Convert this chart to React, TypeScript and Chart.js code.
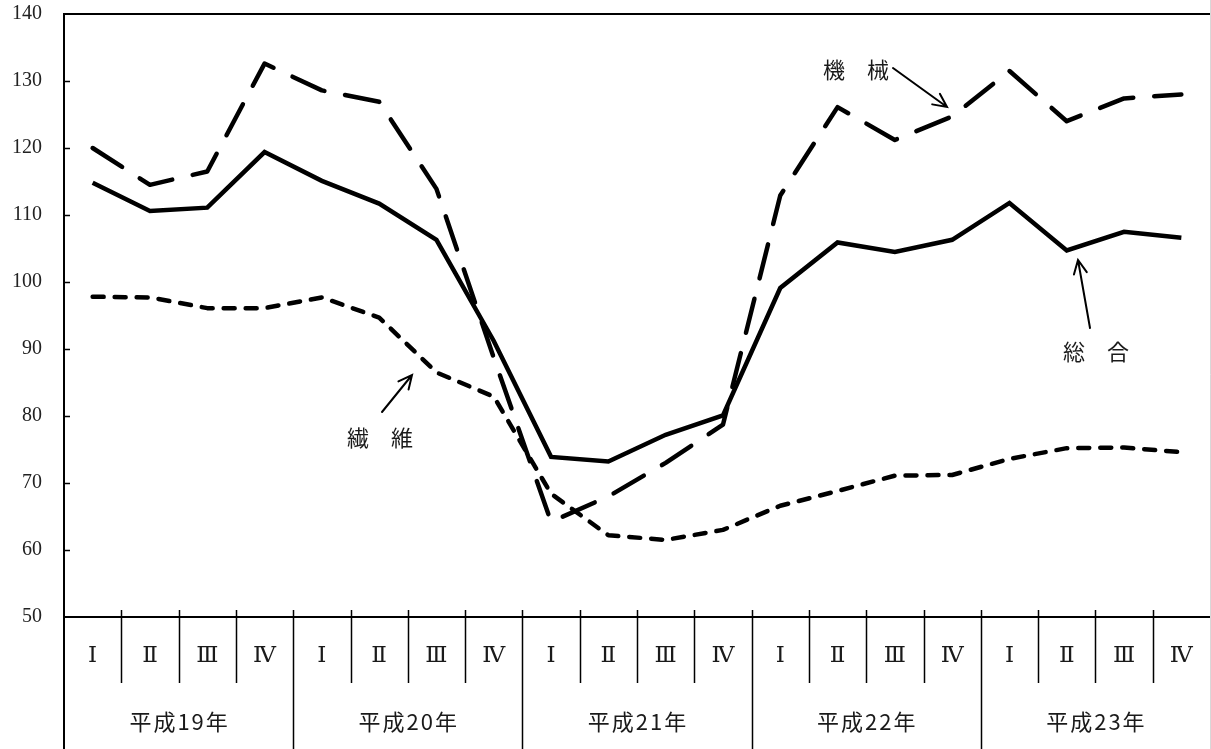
import React, { useEffect, useRef } from "react";
import { Chart, registerables } from "chart.js";

Chart.register(...registerables);

const quarterNames = ["Ⅰ", "Ⅱ", "Ⅲ", "Ⅳ"];
const years = ["平成19年", "平成20年", "平成21年", "平成22年", "平成23年"];
const quarterLabels = years.flatMap(() => quarterNames);

const sogo = [114.8, 110.6, 111.1, 119.4, 115.1, 111.7, 106.3, 91.2, 73.9, 73.2, 77.2, 80.1, 99.1, 105.9, 104.5, 106.3, 111.8, 104.7, 107.5, 106.6];
const kikai = [120.0, 114.5, 116.5, 132.6, 128.6, 126.9, 113.9, 88.7, 64.2, 68.0, 73.0, 78.7, 112.9, 126.1, 121.2, 124.7, 131.5, 124.0, 127.4, 128.0];
const seni = [97.8, 97.7, 96.1, 96.1, 97.7, 94.7, 86.5, 82.9, 68.4, 62.2, 61.5, 63.0, 66.6, 68.8, 71.1, 71.2, 73.6, 75.2, 75.3, 74.6];

const yMin = 50;
const yMax = 140;
const yStep = 10;

const annotations = [
  { text: "機　械", tx: 856, ty: 70, from: [893, 68], to: [947, 107] },
  { text: "総　合", tx: 1096, ty: 352, from: [1090, 328], to: [1078, 260] },
  { text: "繊　維", tx: 380, ty: 438, from: [382, 412], to: [412, 375] },
];

const decorPlugin = {
  id: "decor",
  afterDraw(chart: any) {
    const ctx = chart.ctx as CanvasRenderingContext2D;
    const { left, right, top, bottom } = chart.chartArea;
    const xs = chart.scales.x;
    const ys = chart.scales.y;
    const H = chart.height;
    ctx.save();
    ctx.strokeStyle = "#000";
    ctx.lineCap = "butt";
    // frame lines
    ctx.lineWidth = 2;
    ctx.beginPath();
    ctx.moveTo(left, top);
    ctx.lineTo(right, top);
    ctx.moveTo(left, bottom);
    ctx.lineTo(right, bottom);
    ctx.moveTo(left, top - 1);
    ctx.lineTo(left, H);
    ctx.stroke();
    // inward y ticks
    ctx.lineWidth = 1.5;
    ctx.beginPath();
    for (let v = yMin + yStep; v < yMax; v += yStep) {
      const y = Math.round(ys.getPixelForValue(v)) + 0.5;
      ctx.moveTo(left, y);
      ctx.lineTo(left + 6, y);
    }
    ctx.stroke();
    // separators
    const n = quarterLabels.length;
    ctx.lineWidth = 1.5;
    ctx.beginPath();
    for (let i = 1; i < n; i++) {
      const x = Math.round((xs.getPixelForValue(i - 1) + xs.getPixelForValue(i)) / 2) + 0.5;
      ctx.moveTo(x, bottom - 7);
      ctx.lineTo(x, i % 4 === 0 ? H : bottom + 66);
    }
    ctx.stroke();
    // quarter labels
    ctx.fillStyle = "#1a1a1a";
    ctx.textAlign = "center";
    ctx.textBaseline = "middle";
    ctx.font = '23px "DejaVu Serif", "Liberation Serif", serif';
    for (let i = 0; i < n; i++) {
      ctx.fillText(quarterLabels[i], xs.getPixelForValue(i), bottom + 39);
    }
    // year labels
    ctx.font = '22px "Noto Sans CJK JP", sans-serif';
    (ctx as any).letterSpacing = "2px";
    years.forEach((yl, k) => {
      const x = (xs.getPixelForValue(k * 4) + xs.getPixelForValue(k * 4 + 3)) / 2;
      ctx.fillText(yl, x + 1, bottom + 105);
    });
    (ctx as any).letterSpacing = "0px";
    // annotations
    ctx.font = '22px "Noto Sans CJK JP", sans-serif';
    ctx.lineWidth = 2;
    ctx.lineCap = "round";
    annotations.forEach((a) => {
      ctx.fillText(a.text, a.tx, a.ty);
      const [x1, y1] = a.from;
      const [x2, y2] = a.to;
      ctx.beginPath();
      ctx.moveTo(x1, y1);
      ctx.lineTo(x2, y2);
      const ang = Math.atan2(y2 - y1, x2 - x1);
      const hl = 15;
      const spread = 0.45;
      ctx.moveTo(x2 - hl * Math.cos(ang - spread), y2 - hl * Math.sin(ang - spread));
      ctx.lineTo(x2, y2);
      ctx.lineTo(x2 - hl * Math.cos(ang + spread), y2 - hl * Math.sin(ang + spread));
      ctx.stroke();
    });
    // right light border
    ctx.strokeStyle = "#d8d8d8";
    ctx.lineWidth = 1;
    ctx.beginPath();
    ctx.moveTo(chart.width - 0.5, 0);
    ctx.lineTo(chart.width - 0.5, H);
    ctx.stroke();
    ctx.restore();
  },
};

export default function App() {
  const ref = useRef<HTMLCanvasElement | null>(null);
  useEffect(() => {
    document.body.style.margin = "0";
    const canvas = ref.current;
    if (!canvas) return;
    const chart = new Chart(canvas, {
      type: "line",
      data: {
        labels: quarterLabels,
        datasets: [
          {
            label: "総合",
            data: sogo,
            borderColor: "#000",
            borderWidth: 4.5,
            pointRadius: 0,
            tension: 0,
            borderJoinStyle: "miter",
          },
          {
            label: "機械",
            data: kikai,
            borderColor: "#000",
            borderWidth: 4.5,
            pointRadius: 0,
            tension: 0,
            borderDash: [35, 21],
            borderCapStyle: "round",
            borderJoinStyle: "round",
          },
          {
            label: "繊維",
            data: seni,
            borderColor: "#000",
            borderWidth: 4.5,
            pointRadius: 0,
            tension: 0,
            borderDash: [11, 11],
            borderCapStyle: "round",
            borderJoinStyle: "round",
          },
        ],
      },
      options: {
        responsive: false,
        animation: false,
        layout: { padding: { top: 14, right: 1, bottom: 132, left: 0 } },
        plugins: { legend: { display: false }, tooltip: { enabled: false } },
        scales: {
          x: { type: "category", offset: true, display: false },
          y: {
            min: yMin,
            max: yMax,
            grid: { display: false, drawTicks: false },
            border: { display: false },
            ticks: {
              stepSize: yStep,
              padding: 22,
              color: "#222",
              font: { family: '"Liberation Serif", serif', size: 20 },
            },
            afterFit: (s: any) => {
              s.width = 64;
              s.paddingTop = 0;
              s.paddingBottom = 0;
            },
          },
        },
      },
      plugins: [decorPlugin],
    });
    return () => chart.destroy();
  }, []);
  return (
    <div style={{ width: 1211, height: 749 }}>
      <canvas ref={ref} width={1211} height={749} style={{ display: "block", width: 1211, height: 749 }} />
    </div>
  );
}
